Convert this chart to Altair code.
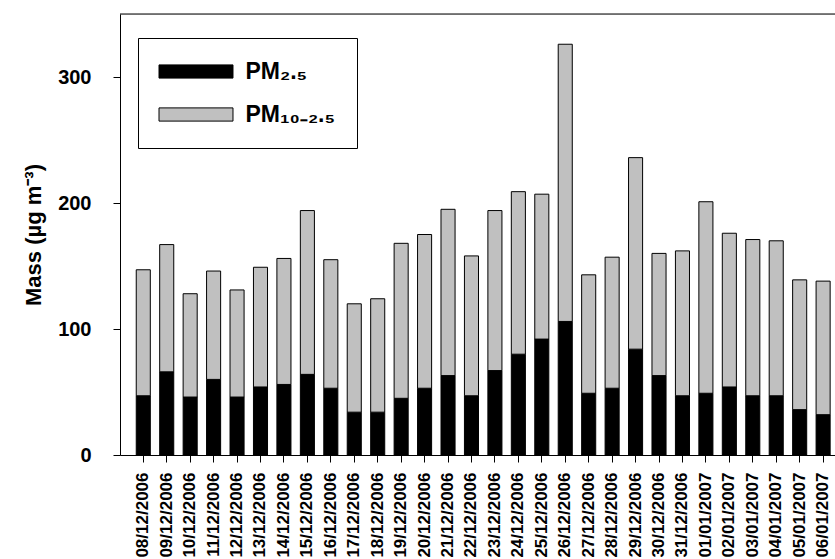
import altair as alt
import pandas as pd

dates = ["08/12/2006", "09/12/2006", "10/12/2006", "11/12/2006", "12/12/2006",
         "13/12/2006", "14/12/2006", "15/12/2006", "16/12/2006", "17/12/2006",
         "18/12/2006", "19/12/2006", "20/12/2006", "21/12/2006", "22/12/2006",
         "23/12/2006", "24/12/2006", "25/12/2006", "26/12/2006", "27/12/2006",
         "28/12/2006", "29/12/2006", "30/12/2006", "31/12/2006", "01/01/2007",
         "02/01/2007", "03/01/2007", "04/01/2007", "05/01/2007", "06/01/2007"]

pm25 = [47, 66, 46, 60, 46, 54, 56, 64, 53, 34,
        34, 45, 53, 63, 47, 67, 80, 92, 106, 49,
        53, 84, 63, 47, 49, 54, 47, 47, 36, 32]

pm10_25 = [100, 101, 82, 86, 85, 95, 100, 130, 102, 86,
           90, 123, 122, 132, 111, 127, 129, 115, 220, 94,
           104, 152, 97, 115, 152, 122, 124, 123, 103, 106]

series_names = ["PM\u2082.\u2085", "PM\u2081\u2080\u208b\u2082.\u2085"]
series_colors = ["#000000", "#c0c0c0"]

rows = []
for d, a, b in zip(dates, pm25, pm10_25):
    rows.append({"date": d, "series": series_names[0], "value": a, "ord": 0})
    rows.append({"date": d, "series": series_names[1], "value": b, "ord": 1})
df = pd.DataFrame(rows)

W, H = 715, 441
FONT = "Liberation Sans"

bars = alt.Chart(df).mark_bar(stroke="black", strokeWidth=1).encode(
    x=alt.X("date:N", sort=dates, title=None,
            scale=alt.Scale(paddingInner=0.4, paddingOuter=0.45, align=0.77),
            axis=alt.Axis(labelAngle=-90, labelFontSize=17, labelFont=FONT,
                          labelFontWeight="bold", labelColor="black",
                          tickSize=7, tickColor="black", domainColor="black",
                          labelPadding=10, grid=False)),
    y=alt.Y("value:Q", stack="zero",
            scale=alt.Scale(domain=[0, 350], nice=False),
            title="Mass (\u00b5g m\u207b\u00b3)",
            axis=alt.Axis(values=[0, 100, 200, 300], labelFontSize=20,
                          labelFont=FONT, labelFontWeight="bold",
                          labelColor="black", tickSize=7, tickColor="black",
                          domainColor="black", labelPadding=22, grid=False,
                          titleFontSize=22, titleFont=FONT,
                          titleFontWeight="bold", titleColor="black",
                          titlePadding=12)),
    color=alt.Color("series:N",
                    scale=alt.Scale(domain=series_names, range=series_colors),
                    legend=alt.Legend(orient="none", legendX=18, legendY=24,
                                      title=None,
                                      symbolType="M-3.083,-0.55H3.083V0.55H-3.083Z",
                                      symbolSize=576, symbolStrokeColor="black",
                                      symbolStrokeWidth=1, symbolOffset=24.5,
                                      labelOffset=37, labelFontSize=23,
                                      labelFont=FONT, labelFontWeight="bold",
                                      labelColor="black", rowPadding=18,
                                      padding=21, strokeColor="black",
                                      fillColor="white")),
    order=alt.Order("ord:Q"),
)

frame = alt.Chart(alt.Data(values=[{"a": 1}])).mark_rule(
    color="black", strokeWidth=1).encode(
    x=alt.value(0), x2=alt.value(W), y=alt.value(0))

chart = alt.layer(bars, frame).properties(
    width=W, height=H,
    autosize=alt.AutoSizeParams(type="none"),
    padding={"left": 120, "top": 14, "right": 0, "bottom": 104},
).configure_view(strokeWidth=0).configure(background="white")

chart.save("out.html", embed_options={"renderer": "svg", "actions": False})
